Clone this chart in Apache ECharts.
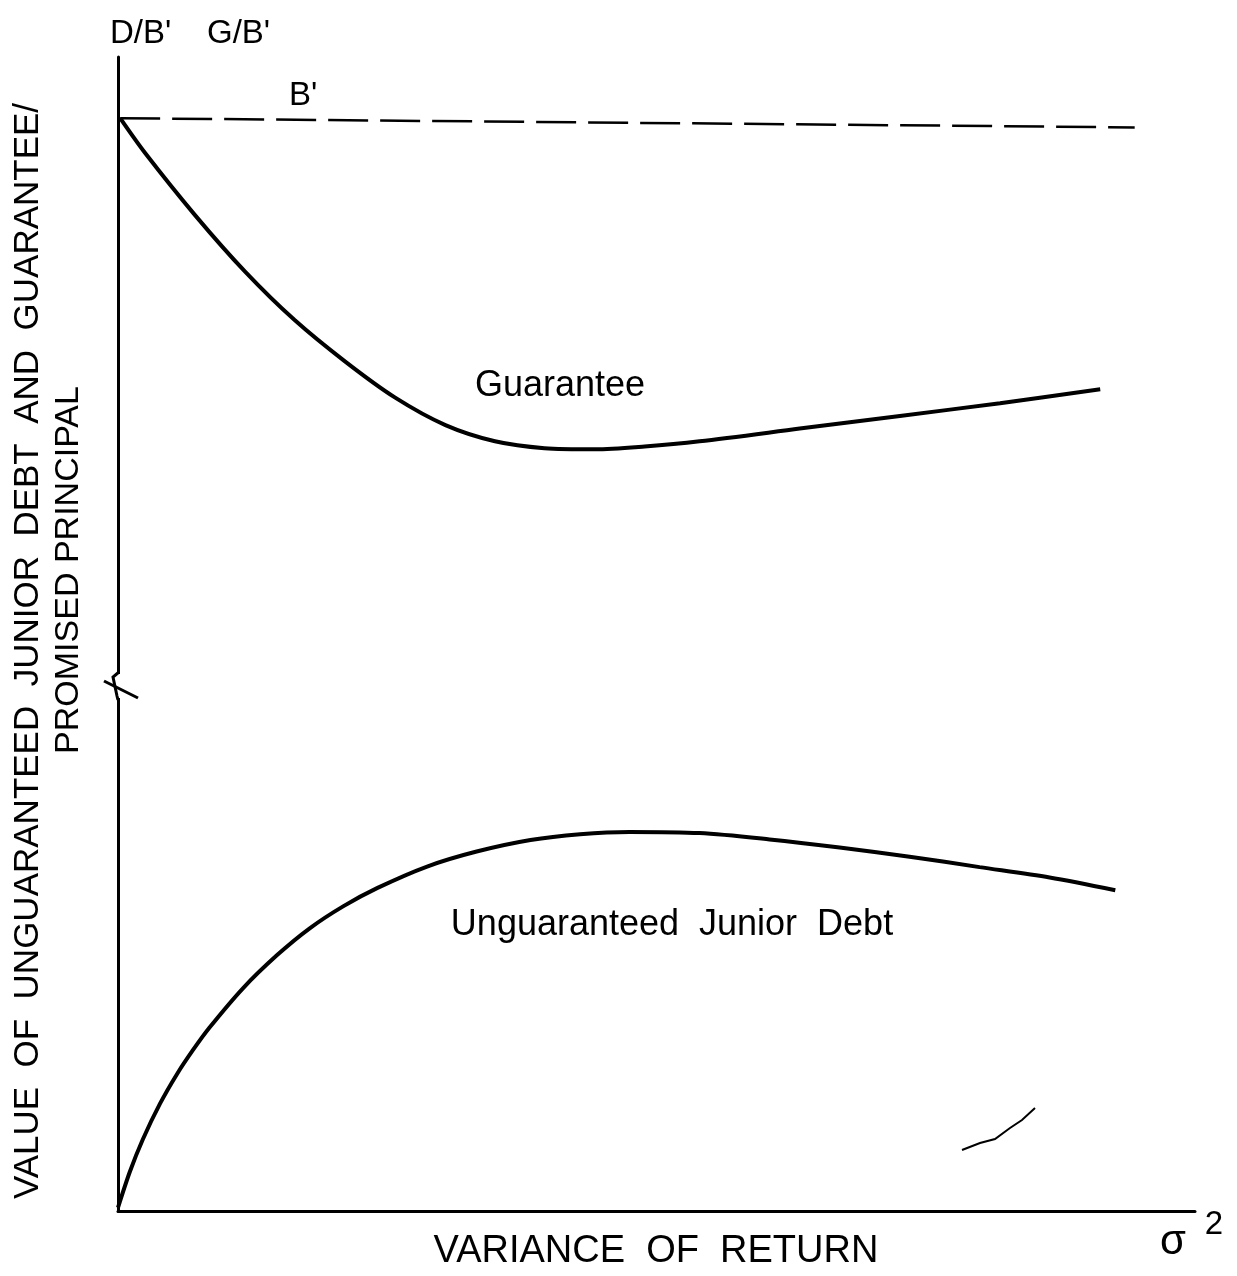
<!DOCTYPE html>
<html><head><meta charset="utf-8">
<script src="https://cdn.jsdelivr.net/npm/echarts@6/dist/echarts.min.js"></script>
<style>html,body{margin:0;padding:0;background:#fff}#c{width:1237px;height:1276px}</style>
</head><body><div id="c"></div>
<script>
// Variance of return (arbitrary units, 0-100)
const guaranteeX = [0.2, 2.5, 7.15, 11.8, 16.4, 21.1, 25.7, 30.4, 35.0, 39.6, 44.3, 48.9, 54.0, 63.3, 72.6, 81.9, 91.2];
// Guarantee / promised principal (arbitrary units, 0-100)
const guaranteeY = [94.7, 91.7, 86.3, 81.4, 77.2, 73.6, 70.5, 68.1, 66.7, 66.1, 66.0, 66.25, 66.7, 67.8, 68.9, 70.0, 71.2];
// Unguaranteed junior debt / promised principal
const juniorX = [0, 1.1, 2.3, 3.9, 5.5, 7.0, 8.5, 11.6, 14.8, 17.8, 20.9, 24.1, 28.7, 33.3, 38.3, 42.9, 47.5, 54.0, 60.5, 67.0, 73.5, 80.0, 86.5, 92.6];
const juniorY = [0.3, 3.4, 6.2, 9.3, 11.9, 14.0, 15.9, 19.3, 22.2, 24.5, 26.4, 28.0, 29.85, 31.15, 32.15, 32.65, 32.85, 32.75, 32.2, 31.5, 30.7, 29.8, 28.9, 27.8];
// Promised principal B' (dashed reference line)
const principalX = [0.2, 94.4];
const principalY = [94.7, 93.9];

const FONT = '"Liberation Sans", Arial, sans-serif';
const pairs = (xs, ys) => xs.map((x, i) => [x, ys[i]]);

const chart = echarts.init(document.getElementById('c'), null, {renderer: 'canvas'});
chart.setOption({
  backgroundColor: '#ffffff',
  animation: false,
  grid: {left: 118, right: 42, top: 57, bottom: 65},
  xAxis: {
    type: 'value', min: 0, max: 100,
    axisLine: {show: true, lineStyle: {color: '#000', width: 3}},
    axisTick: {show: false}, axisLabel: {show: false}, splitLine: {show: false}
  },
  yAxis: {
    type: 'value', min: 0, max: 100,
    axisLine: {show: true, lineStyle: {color: '#000', width: 3}},
    axisTick: {show: false}, axisLabel: {show: false}, splitLine: {show: false}
  },
  series: [
    {type: 'line', name: "B'", data: pairs(principalX, principalY), showSymbol: false,
     lineStyle: {color: '#000', width: 2.5, type: [40, 12]}},
    {type: 'line', name: 'Guarantee', data: pairs(guaranteeX, guaranteeY), showSymbol: false, smooth: 0.3,
     lineStyle: {color: '#000', width: 4}},
    {type: 'line', name: 'Unguaranteed Junior Debt', data: pairs(juniorX, juniorY), showSymbol: false, smooth: 0.3,
     lineStyle: {color: '#000', width: 4}}
  ],
  graphic: [
    // axis break on the vertical axis
    {type: 'rect', shape: {x: 112, y: 674, width: 12, height: 24}, style: {fill: '#fff'}, z: 100},
    {type: 'polyline', shape: {points: [[119, 672], [113, 677], [117, 696], [118, 700]]}, style: {stroke: '#000', lineWidth: 3, fill: null}, z: 101},
    {type: 'line', shape: {x1: 104, y1: 681, x2: 138, y2: 698}, style: {stroke: '#000', lineWidth: 3}, z: 101},
    // axis titles
    {type: 'text', x: 110, y: 34, style: {text: "D/B'", font: '33px ' + FONT, fill: '#000', align: 'left', verticalAlign: 'middle'}},
    {type: 'text', x: 207, y: 34, style: {text: "G/B'", font: '33px ' + FONT, fill: '#000', align: 'left', verticalAlign: 'middle'}},
    {type: 'text', x: 289, y: 96, style: {text: "B'", font: '33px ' + FONT, fill: '#000', align: 'left', verticalAlign: 'middle'}},
    {type: 'text', x: 28, y: 651, rotation: Math.PI / 2,
     style: {text: 'VALUE  OF  UNGUARANTEED  JUNIOR  DEBT  AND  GUARANTEE/', font: '35px ' + FONT, fill: '#000', align: 'center', verticalAlign: 'middle'}},
    {type: 'text', x: 69, y: 570, rotation: Math.PI / 2,
     style: {text: 'PROMISED PRINCIPAL', font: '34px ' + FONT, fill: '#000', align: 'center', verticalAlign: 'middle'}},
    {type: 'text', x: 656, y: 1252, style: {text: 'VARIANCE  OF  RETURN', font: '38px ' + FONT, fill: '#000', align: 'center', verticalAlign: 'middle'}},
    {type: 'text', x: 1173, y: 1242, style: {text: 'σ', font: '42px ' + FONT, fill: '#000', align: 'center', verticalAlign: 'middle'}},
    {type: 'text', x: 1214, y: 1225, style: {text: '2', font: '33px ' + FONT, fill: '#000', align: 'center', verticalAlign: 'middle'}},
    // series labels
    {type: 'text', x: 560, y: 386, style: {text: 'Guarantee', font: '36px ' + FONT, fill: '#000', align: 'center', verticalAlign: 'middle'}},
    {type: 'text', x: 672, y: 925, style: {text: 'Unguaranteed  Junior  Debt', font: '36px ' + FONT, fill: '#000', align: 'center', verticalAlign: 'middle'}},
    // stray pen mark in the original scan
    {type: 'polyline', shape: {points: [[962, 1150], [980, 1143], [995, 1139], [1010, 1128], [1022, 1120], [1035, 1108]]}, style: {stroke: '#000', lineWidth: 2, fill: null}}
  ]
});
</script></body></html>
